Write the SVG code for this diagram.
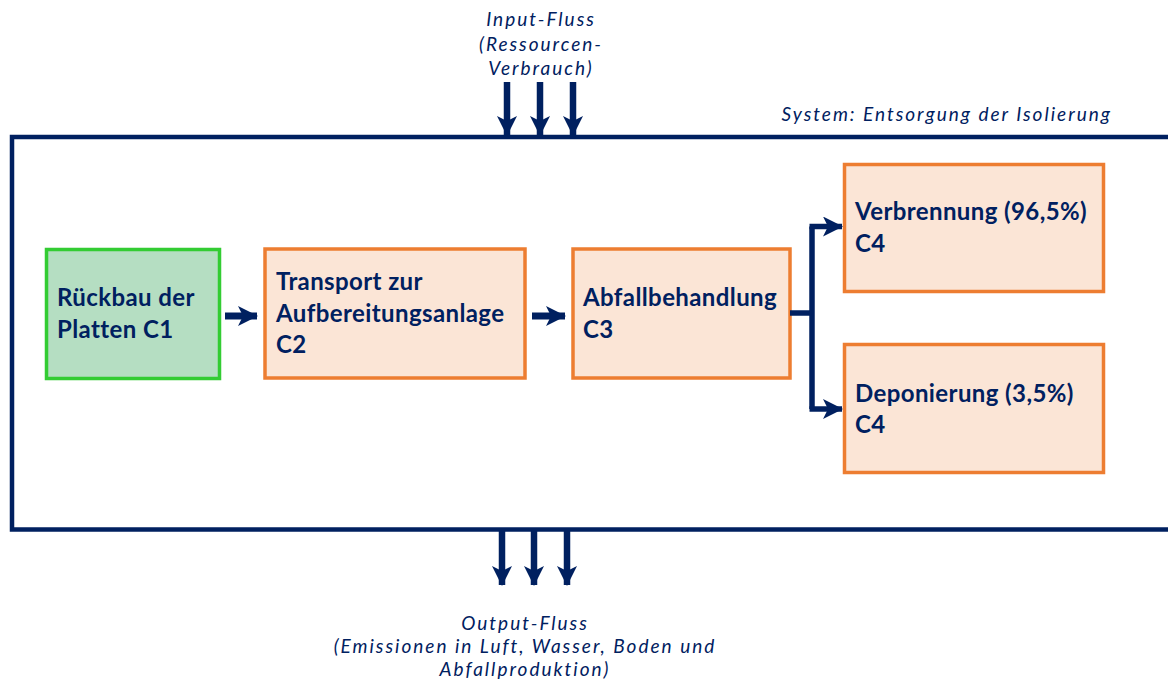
<svg xmlns="http://www.w3.org/2000/svg" width="1168" height="680" viewBox="0 0 1168 680">
<style>
.lbl{font-family:Lato,"Open Sans",sans-serif;font-style:italic;font-size:19px;letter-spacing:2px;fill:#002060}
.nt{font-family:Lato,"Open Sans",sans-serif;font-weight:bold;font-size:24px;letter-spacing:0.4px;fill:#002060}
.or{fill:#FBE5D6;stroke:#ED7D31;stroke-width:3.5}
.gr{fill:#B5DEC2;stroke:#33CC33;stroke-width:3.5}
.ln{stroke:#002060;fill:none}
</style>
<defs>
<marker id="ah" viewBox="0 0 20 20" markerUnits="userSpaceOnUse" markerWidth="20" markerHeight="20" refX="19" refY="10" orient="auto">
<path d="M0,0 L20,10 L0,20 L5,10 z" fill="#002060"/>
</marker>
</defs>
<rect width="1168" height="680" fill="#ffffff"/>
<g id="system">
<path d="M1170,137 L12,137 L12,529.5 L1170,529.5" class="ln" stroke-width="4.5"/>
<text class="lbl" x="1112" y="121" text-anchor="end">System: Entsorgung der Isolierung</text>
</g>
<g id="input">
<text class="lbl" text-anchor="middle"><tspan x="541" y="26">Input-Fluss</tspan><tspan x="541" y="51">(Ressourcen-</tspan><tspan x="541" y="75">Verbrauch)</tspan></text>
</g>
<g id="output">
<text class="lbl" text-anchor="middle"><tspan x="525" y="630">Output-Fluss</tspan><tspan x="525" y="653">(Emissionen in Luft, Wasser, Boden und</tspan><tspan x="525" y="676">Abfallproduktion)</tspan></text>
</g>
<g id="c1">
<rect class="gr" x="46.5" y="249.5" width="173" height="129"/>
<text class="nt"><tspan x="57" y="306">Rückbau der</tspan><tspan x="57" y="338">Platten C1</tspan></text>
</g>
<g id="c2">
<rect class="or" x="265" y="249" width="260" height="129"/>
<text class="nt"><tspan x="276" y="290">Transport zur</tspan><tspan x="276" y="322">Aufbereitungsanlage</tspan><tspan x="276" y="353">C2</tspan></text>
</g>
<g id="c3">
<rect class="or" x="573" y="249" width="217" height="129"/>
<text class="nt"><tspan x="583" y="306">Abfallbehandlung</tspan><tspan x="583" y="338">C3</tspan></text>
</g>
<g id="c4a">
<rect class="or" x="844.5" y="164.5" width="259" height="127"/>
<text class="nt"><tspan x="855" y="220">Verbrennung (96,5%)</tspan><tspan x="855" y="252">C4</tspan></text>
</g>
<g id="c4b">
<rect class="or" x="844.5" y="344.5" width="259" height="128"/>
<text class="nt"><tspan x="855" y="402">Deponierung (3,5%)</tspan><tspan x="855" y="433">C4</tspan></text>
</g>
<g id="connectors" class="ln">
<line x1="507" y1="82" x2="507" y2="135" stroke-width="6.5" marker-end="url(#ah)"/>
<line x1="540" y1="82" x2="540" y2="135" stroke-width="6.5" marker-end="url(#ah)"/>
<line x1="573" y1="82" x2="573" y2="135" stroke-width="6.5" marker-end="url(#ah)"/>
<line x1="502" y1="530" x2="502" y2="585" stroke-width="6.5" marker-end="url(#ah)"/>
<line x1="534" y1="530" x2="534" y2="585" stroke-width="6.5" marker-end="url(#ah)"/>
<line x1="567" y1="530" x2="567" y2="585" stroke-width="6.5" marker-end="url(#ah)"/>
<line x1="225" y1="316" x2="257" y2="316" stroke-width="7" marker-end="url(#ah)"/>
<line x1="532" y1="316" x2="565" y2="316" stroke-width="7" marker-end="url(#ah)"/>
<path d="M790,313 L812,313 M812,226.5 L812,409" stroke-width="5.5"/>
<path d="M809.5,226.5 L842,226.5" stroke-width="5.5" marker-end="url(#ah)"/>
<path d="M809.5,409 L842,409" stroke-width="5.5" marker-end="url(#ah)"/>
</g>
</svg>
